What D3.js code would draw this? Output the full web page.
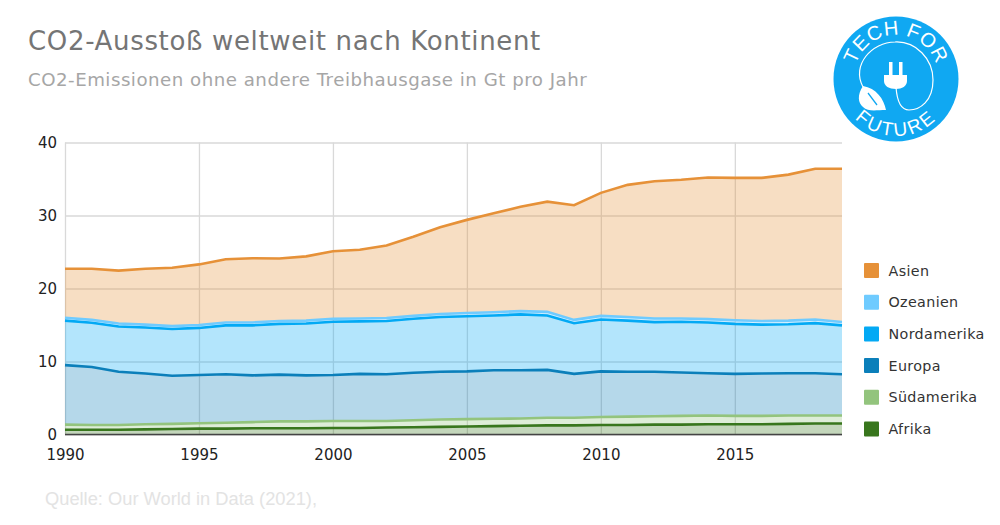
<!DOCTYPE html>
<html><head><meta charset="utf-8">
<script src="https://cdn.jsdelivr.net/npm/d3@7/dist/d3.min.js"></script>
<style>html,body{margin:0;padding:0;background:#fff;overflow:hidden}svg{display:block}</style>
</head><body><svg id="c" width="1000" height="525"></svg>
<script>
const years = d3.range(1990, 2020);
const seriesNames = ["Afrika","Südamerika","Europa","Nordamerika","Ozeanien","Asien"];
const colors = ["#38761d","#93c47d","#0b7fba","#03a9f4","#6fcbff","#e69138"];
const afrika = [.65,.65,.65,.7,.75,.8,.8,.85,.85,.85,.9,.9,.95,1.0,1.05,1.1,1.15,1.2,1.25,1.25,1.3,1.3,1.35,1.35,1.4,1.4,1.4,1.45,1.5,1.5];
const suedamerika = [.70,.65,.65,.70,.70,.75,.80,.85,.95,.95,.95,.95,.90,.95,1.0,1.0,1.0,1.0,1.05,1.05,1.1,1.15,1.15,1.2,1.2,1.15,1.15,1.15,1.1,1.1];
const europa = [8.15,7.95,7.3,6.95,6.6,6.6,6.65,6.4,6.4,6.3,6.3,6.45,6.4,6.5,6.55,6.55,6.65,6.6,6.55,6.0,6.25,6.15,6.1,5.95,5.8,5.75,5.8,5.8,5.8,5.65];
const nordamerika = [6.1,6.05,6.2,6.3,6.4,6.45,6.7,6.85,6.95,7.1,7.3,7.2,7.3,7.4,7.5,7.55,7.5,7.65,7.45,6.95,7.1,7.0,6.8,6.95,6.95,6.85,6.7,6.7,6.85,6.7];
const ozeanien = [.4,.4,.4,.4,.4,.4,.4,.4,.4,.4,.4,.4,.4,.4,.4,.45,.45,.45,.5,.45,.5,.5,.5,.45,.45,.5,.5,.5,.5,.45];
const asien = [6.7,7.0,7.25,7.65,8.0,8.3,8.65,8.8,8.55,8.8,9.25,9.4,9.95,10.85,11.9,12.75,13.55,14.3,15.1,15.7,16.85,18.1,18.8,19.0,19.4,19.5,19.6,20.0,20.65,21.0];
const xTicks = [1990,1995,2000,2005,2010,2015];
const yTicks = [0,10,20,30,40];
const legendOrder = ["Asien","Ozeanien","Nordamerika","Europa","Südamerika","Afrika"];
const titleText = "CO2-Ausstoß weltweit nach Kontinent";
const subtitleText = "CO2-Emissionen ohne andere Treibhausgase in Gt pro Jahr";
const sourceText = "Quelle: Our World in Data (2021),";

const all = [afrika,suedamerika,europa,nordamerika,ozeanien,asien];
const rows = years.map((y,i)=>{const r={year:y};seriesNames.forEach((n,j)=>r[n]=all[j][i]);return r;});
const stacked = d3.stack().keys(seriesNames)(rows);
const color = d3.scaleOrdinal(seriesNames,colors);

const svg = d3.select("#c");
const font = "'DejaVu Sans',Verdana,sans-serif";
const x = d3.scaleLinear().domain([1990,2019]).range([65,842]);
const y = d3.scaleLinear().domain([0,40]).range([434.5,142.5]);

svg.append("text").attr("x",28).attr("y",49.5).attr("font-family",font).attr("font-size",26).attr("letter-spacing",0.66).attr("fill","#757575").text(titleText);
svg.append("text").attr("x",28).attr("y",86).attr("font-family",font).attr("font-size",18.2).attr("letter-spacing",0.5).attr("fill","#a6a6a6").text(subtitleText);
svg.append("text").attr("x",45).attr("y",505).attr("font-family","'Liberation Sans',Arial,sans-serif").attr("font-size",18.3).attr("fill","#e3e3e3").text(sourceText);

// grid + axes
const gy = svg.append("g").attr("transform","translate(65,0)")
  .call(d3.axisLeft(y).tickValues(yTicks).tickSize(-777).tickPadding(8));
gy.select(".domain").remove();
gy.selectAll("line").attr("stroke","#d9d9d9").attr("stroke-width",1.3);
const gx = svg.append("g").attr("transform","translate(0,434.5)")
  .call(d3.axisBottom(x).tickValues(xTicks).tickFormat(d3.format("d")).tickSize(-292).tickPadding(8));
gx.select(".domain").remove();
gx.selectAll("line").attr("stroke","#d9d9d9").attr("stroke-width",1.3);
svg.selectAll("g text").attr("font-family",font).attr("font-size",15).attr("fill","#222");
gy.selectAll("text").attr("dy","0.32em").attr("x",-8);
gx.selectAll("text").attr("y",15);

// areas
const area = d3.area().x((d,i)=>x(years[i])).y0(d=>y(d[0])).y1(d=>y(d[1]));
const line = d3.line().x((d,i)=>x(years[i])).y(d=>y(d[1]));
svg.append("g").selectAll("path").data(stacked).join("path")
  .attr("d",area).attr("fill",d=>color(d.key)).attr("fill-opacity",0.3);
svg.append("g").selectAll("path").data(stacked).join("path")
  .attr("d",line).attr("fill","none").attr("stroke",d=>color(d.key)).attr("stroke-width",2.6);
svg.append("line").attr("x1",x(1990)).attr("x2",x(2019)).attr("y1",y(0)).attr("y2",y(0)).attr("stroke","#444").attr("stroke-width",1.3);

// legend
const legY = d3.scalePoint().domain(legendOrder).range([270.5,429]);
const leg = svg.append("g").selectAll("g").data(legendOrder).join("g")
  .attr("transform",d=>`translate(864,${legY(d)})`);
leg.append("rect").attr("y",-7.5).attr("width",15).attr("height",15).attr("rx",1).attr("fill",d=>color(d));
leg.append("text").attr("x",24.5).attr("dy","0.36em").attr("font-family",font).attr("font-size",14.3).attr("letter-spacing",0.35).attr("fill","#333").text(d=>d);

// logo
const logo = svg.append("g").attr("transform","translate(896,79)");
logo.append("circle").attr("r",62.5).attr("fill","#10a8f2");
const defs = svg.append("defs");
defs.append("path").attr("id","arcTop").attr("d","M-41,7 A42,42 0 1 1 41,7");
defs.append("path").attr("id","arcBot").attr("d","M-56.68,-6 A57,57 0 1 0 56.68,-6");
const logoFont="'Liberation Sans',Arial,sans-serif";
logo.append("text").attr("font-family",logoFont).attr("font-size",20).attr("fill","#fff").attr("text-anchor","middle").attr("letter-spacing",0.6)
  .append("textPath").attr("href","#arcTop").attr("startOffset","50%").text("TECH FOR");
logo.append("text").attr("font-family",logoFont).attr("font-size",19).attr("fill","#fff").attr("text-anchor","middle").attr("letter-spacing",2.5)
  .append("textPath").attr("href","#arcBot").attr("startOffset","50%").text("FUTURE");
// cable
logo.append("path").attr("fill","none").attr("stroke","#fff").attr("stroke-width",1.2)
  .attr("d","M-33,8 C-45,-14 -24,-37 -1,-37 C20,-38 37,-20 37,1 C37,22 24,31 13,31 C5,31 1,22 0,8");
// plug
logo.append("path").attr("fill","#fff")
  .attr("d","M-12,-4 H11 V2 C11,7 6,10 0,10 C-7,10 -12,7 -12,2 Z");
logo.append("rect").attr("x",-7).attr("y",-17).attr("width",3.5).attr("height",14).attr("fill","#fff");
logo.append("rect").attr("x",3).attr("y",-17).attr("width",3.5).attr("height",14).attr("fill","#fff");
// leaf
logo.append("path").attr("fill","#fff")
  .attr("d","M-33,7 C-39,16 -38,24 -33,28 C-28,33 -20,31 -10,31 C-12,20 -20,9 -33,7 Z");
logo.append("path").attr("fill","none").attr("stroke","#10a8f2").attr("stroke-width",1.3)
  .attr("d","M-28,14 L-19,26");
</script></body></html>
